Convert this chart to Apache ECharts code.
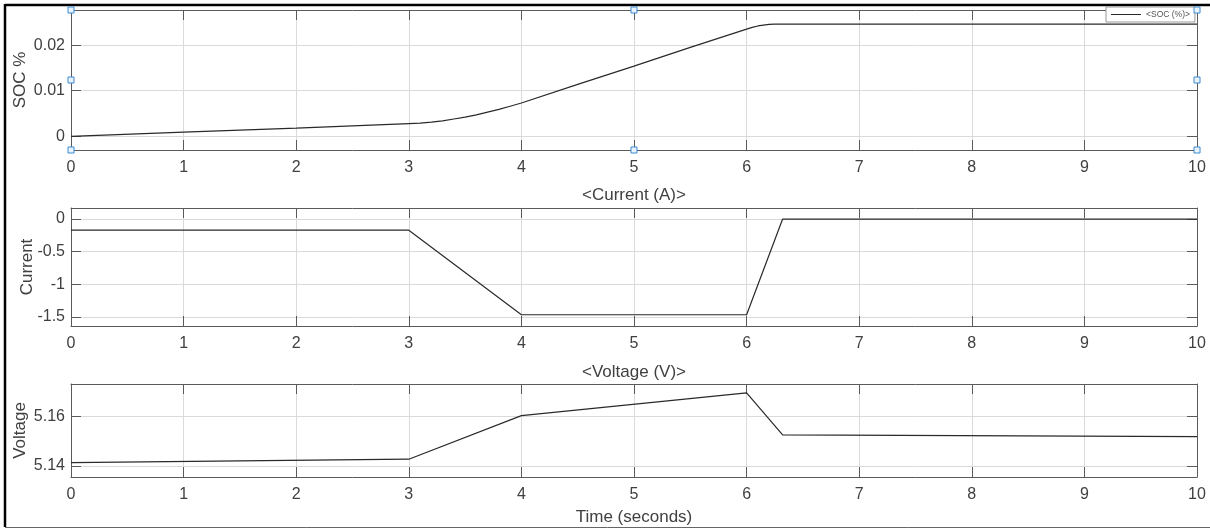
<!DOCTYPE html>
<html>
<head>
<meta charset="utf-8">
<script src="https://cdn.jsdelivr.net/npm/echarts@6/dist/echarts.min.js"></script>
<style>
html,body{margin:0;padding:0;background:#fff;}
#c{width:1210px;height:529px;}
</style>
</head>
<body>
<div id="c"></div>
<script>
// ---- data ----
const socTime   = [0, 1, 2, 3, 3.1, 3.2, 3.3, 3.4, 3.5, 3.6, 3.7, 3.8, 3.9, 4, 4.5, 5, 5.5, 6, 6.05, 6.1, 6.15, 6.2, 6.25, 6.3, 7, 8, 9, 10];
const socValue  = [0, 0.0009, 0.0018, 0.0028, 0.0029, 0.0031, 0.0034, 0.0038, 0.0042, 0.0047, 0.0053, 0.0059, 0.0066, 0.0073, 0.0114, 0.0154, 0.0195, 0.0235, 0.0239, 0.0242, 0.0244, 0.02455, 0.0246, 0.0246, 0.0246, 0.0246, 0.0246, 0.0246];
const curTime   = [0, 3, 4, 6, 6.32, 10];
const curValue  = [-0.17, -0.17, -1.465, -1.465, 0, 0];
const voltTime  = [0, 3, 4, 6, 6.32, 10];
const voltValue = [5.1413, 5.1427, 5.1603, 5.1695, 5.1525, 5.1518];
const socTicks  = [0, 0.01, 0.02];
const curTicks  = [0, -0.5, -1, -1.5];
const voltTicks = [5.14, 5.16];
const socRange  = [-0.003, 0.0277];
const curRange  = [-1.637, 0.169];
const voltRange = [5.1355, 5.1731];

// ---- layout ----
const L = 71, W = 1126;
const grids = [
  {top: 10, height: 140},
  {top: 208, height: 118},
  {top: 384, height: 93}
];
const axisCol = '#5a5a5a', gridCol = '#dadada', txtCol = '#404040';
const font = 'Liberation Sans, Arial, sans-serif';

const chart = echarts.init(document.getElementById('c'), null, {renderer: 'canvas'});

function pairs(xs, ys){ return xs.map((x,i)=>[x, ys[i]]); }

const xAxes = [], yAxes = [];
grids.forEach((g, i) => {
  xAxes.push({
    type: 'value', gridIndex: i, min: 0, max: 10, interval: 1, position: 'bottom',
    axisLine: {show: true, onZero: false, lineStyle: {color: axisCol, width: 1}},
    axisTick: {show: true, inside: true, length: 10, lineStyle: {color: axisCol}},
    axisLabel: {color: txtCol, fontSize: 16, fontFamily: font, margin: 10},
    splitLine: {show: true, lineStyle: {color: gridCol, width: 1}},
    name: i === 2 ? 'Time (seconds)' : '',
    nameLocation: 'middle', nameGap: 32, nameMoveOverlap: false,
    nameTextStyle: {color: txtCol, fontSize: 17, fontFamily: font}
  });
  xAxes.push({
    type: 'value', gridIndex: i, min: 0, max: 10, interval: 1, position: 'top',
    axisLine: {show: true, onZero: false, lineStyle: {color: axisCol, width: 1}},
    axisTick: {show: true, inside: true, length: 10, lineStyle: {color: axisCol}},
    axisLabel: {show: false}, splitLine: {show: false}
  });
});

const yDefs = [
  {range: socRange, ticks: socTicks, name: 'SOC %', gap: 42, fmt: v => String(+v.toFixed(3))},
  {range: curRange, ticks: curTicks, name: 'Current', gap: 35, fmt: v => String(+v.toFixed(1))},
  {range: voltRange, ticks: voltTicks, name: 'Voltage', gap: 42, fmt: v => v.toFixed(2)}
];
yDefs.forEach((d, i) => {
  yAxes.push({
    type: 'value', gridIndex: i, min: d.range[0], max: d.range[1], position: 'left',
    axisLine: {show: true, onZero: false, lineStyle: {color: axisCol, width: 1}},
    axisTick: {show: true, inside: true, length: 10, customValues: d.ticks, lineStyle: {color: axisCol}},
    axisLabel: {color: txtCol, fontSize: 16, fontFamily: font, margin: 6, customValues: d.ticks, formatter: d.fmt},
    splitLine: {show: true, lineStyle: {color: gridCol, width: 1}},
    name: d.name, nameLocation: 'middle', nameGap: d.gap, nameRotate: 90, nameMoveOverlap: false,
    nameTextStyle: {color: txtCol, fontSize: 17, fontFamily: font}
  });
  yAxes.push({
    type: 'value', gridIndex: i, min: d.range[0], max: d.range[1], position: 'right',
    axisLine: {show: true, onZero: false, lineStyle: {color: axisCol, width: 1}},
    axisTick: {show: true, inside: true, length: 10, customValues: d.ticks, lineStyle: {color: axisCol}},
    axisLabel: {show: false, customValues: d.ticks}, splitLine: {show: false}
  });
});

const lineStyle = {color: '#2a2a2a', width: 1.2};
const series = [
  {name: '<SOC (%)>', type: 'line', xAxisIndex: 0, yAxisIndex: 0, data: pairs(socTime, socValue),
   showSymbol: false, symbol: 'none', lineStyle, itemStyle: {color: '#2a2a2a'}, animation: false},
  {name: 'cur', type: 'line', xAxisIndex: 2, yAxisIndex: 2, data: pairs(curTime, curValue),
   showSymbol: false, symbol: 'none', lineStyle, animation: false},
  {name: 'volt', type: 'line', xAxisIndex: 4, yAxisIndex: 4, data: pairs(voltTime, voltValue),
   showSymbol: false, symbol: 'none', lineStyle, animation: false}
];

// selection handles
const handlePts = [[L,10],[L,80],[L,150],[L+W/2,10],[L+W/2,150],[L+W,10],[L+W,80],[L+W,150]];
const graphics = handlePts.map(p => ({
  type: 'rect', shape: {x: p[0]-3, y: p[1]-3, width: 6, height: 6},
  style: {fill: '#eaf3fb', stroke: '#3a8ad4', lineWidth: 1}, z: 100
}));
graphics.push(
  {type: 'line', shape: {x1: 5, y1: 5, x2: 1210, y2: 5}, style: {stroke: '#000', lineWidth: 2.5}, z: 90},
  {type: 'line', shape: {x1: 5, y1: 4, x2: 5, y2: 527}, style: {stroke: '#000', lineWidth: 2.5}, z: 90},
  {type: 'line', shape: {x1: 5, y1: 527.5, x2: 1210, y2: 527.5}, style: {stroke: '#666', lineWidth: 1}, z: 90},
  {type: 'text', x: L + W/2, y: 195, style: {text: '<Current (A)>', fill: txtCol, font: '17px ' + font, textAlign: 'center', textVerticalAlign: 'middle'}},
  {type: 'text', x: L + W/2, y: 372, style: {text: '<Voltage (V)>', fill: txtCol, font: '17px ' + font, textAlign: 'center', textVerticalAlign: 'middle'}}
);

chart.setOption({
  animation: false,
  backgroundColor: '#fff',
  grid: grids.map(g => ({left: L, width: W, top: g.top, height: g.height, containLabel: false})),
  xAxis: xAxes,
  yAxis: yAxes,
  legend: {
    data: ['<SOC (%)>'], left: 1106, top: 7, orient: 'horizontal',
    padding: [3, 5, 3, 5], itemGap: 0, itemWidth: 30, itemHeight: 1,
    icon: 'rect',
    borderColor: '#999', borderWidth: 1, backgroundColor: '#fff',
    textStyle: {fontSize: 8.5, color: '#555', fontFamily: font},
    selectedMode: false, z: 95
  },
  series,
  graphic: graphics
});
</script>
</body>
</html>
